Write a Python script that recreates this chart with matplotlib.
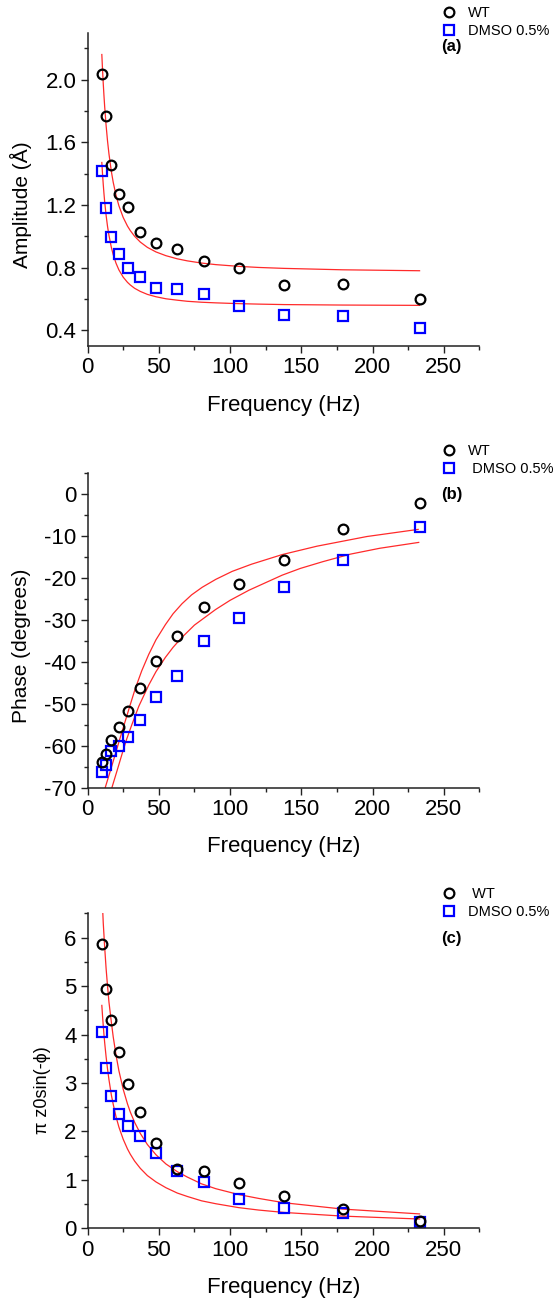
import matplotlib
matplotlib.use('Agg')
import matplotlib.pyplot as plt
from matplotlib.ticker import MultipleLocator

plt.rcParams['font.family'] = ['Liberation Sans', 'DejaVu Sans']

# frequencies of the measured points (Hz)
freq = [10, 12.7, 16.7, 22.2, 28.7, 37.1, 48.1, 62.8, 81.5, 106, 138, 179, 233]

# (a) amplitude
amp_wt = [2.036, 1.767, 1.452, 1.270, 1.188, 1.026, 0.960, 0.920, 0.845, 0.797, 0.690, 0.698, 0.601]
amp_dmso = [1.414, 1.181, 0.997, 0.889, 0.796, 0.739, 0.667, 0.665, 0.633, 0.557, 0.499, 0.489, 0.417]

# (b) phase
phase_wt = [-64.0, -62.0, -58.6, -55.5, -51.8, -46.3, -39.9, -33.9, -26.9, -21.4, -15.7, -8.5, -2.2]
phase_dmso = [-66.3, -64.6, -61.4, -60.0, -57.9, -53.9, -48.4, -43.4, -35.2, -29.7, -22.2, -15.9, -7.9]

# (c) pi z0 sin(-phi)
psin_wt = [5.87, 4.93, 4.29, 3.64, 2.97, 2.40, 1.76, 1.23, 1.19, 0.936, 0.674, 0.406, 0.151]
psin_dmso = [4.06, 3.31, 2.73, 2.37, 2.11, 1.90, 1.55, 1.18, 0.956, 0.612, 0.427, 0.310, 0.131]

# fitted curves
fit_x = [10, 10.5, 11, 11.5, 12, 13, 14, 15, 16.7, 18, 20, 22, 25, 28, 30, 33, 37, 42, 48, 55,
         63, 70, 80, 90, 106, 120, 138, 179, 233]
fit_amp_wt = [2.160, 2.062, 1.975, 1.897, 1.827, 1.707, 1.608, 1.526, 1.413, 1.344, 1.260, 1.194,
              1.120, 1.065, 1.036, 1.000, 0.963, 0.929, 0.900, 0.876, 0.856, 0.843, 0.829, 0.819,
              0.808, 0.801, 0.795, 0.786, 0.780]
fit_amp_dmso = [1.471, 1.396, 1.331, 1.272, 1.220, 1.134, 1.063, 1.006, 0.928, 0.882, 0.827, 0.785,
                0.739, 0.706, 0.689, 0.668, 0.648, 0.629, 0.614, 0.601, 0.592, 0.585, 0.579, 0.575,
                0.570, 0.567, 0.564, 0.561, 0.559]
fit_psin_wt = [6.95, 6.63, 6.30, 6.05, 5.80, 5.36, 5.00, 4.67, 4.25, 3.95, 3.57, 3.25, 2.87, 2.57,
               2.40, 2.19, 1.96, 1.73, 1.52, 1.33, 1.17, 1.06, 0.92, 0.82, 0.70, 0.62, 0.53,
               0.40, 0.30]
fit_psin_dmso = [4.60, 4.38, 4.18, 4.00, 3.83, 3.54, 3.29, 3.07, 2.75, 2.56, 2.30, 2.09, 1.84, 1.64,
                 1.53, 1.39, 1.24, 1.09, 0.96, 0.84, 0.73, 0.66, 0.57, 0.51, 0.43, 0.38, 0.33,
                 0.255, 0.195]

fit_ph_wt_x = [12.4, 16, 19.5, 23, 26.5, 30, 33.5, 38, 42.9, 48, 54.6, 60, 66.3, 73, 80.4, 90,
               101.5, 115, 136.6, 161, 196, 232]
fit_ph_wt = [-70, -66.0, -62.0, -58.0, -54.1, -50.2, -46.4, -42.2, -38.3, -34.8, -31.2, -28.6,
             -26.2, -24.1, -22.3, -20.4, -18.5, -16.8, -14.5, -12.5, -10.2, -8.5]
fit_ph_dmso_x = [17.1, 20.5, 24.2, 27.5, 31.2, 36, 42.9, 48, 54.6, 60, 66.3, 75, 89.8, 100, 113.2,
                 136.6, 149.3, 165, 184.4, 205, 232.4]
fit_ph_dmso = [-70, -66.2, -62.0, -58.4, -54.9, -50.6, -45.6, -42.4, -39.0, -36.6, -34.2, -31.3,
               -27.6, -25.4, -23.0, -19.4, -17.8, -16.2, -14.4, -13.0, -11.6]

panels = [
    dict(wt=amp_wt, dmso=amp_dmso, fx1=fit_x, f1=fit_amp_wt, fx2=fit_x, f2=fit_amp_dmso,
         ylim=(0.3, 2.3), major=0.4, minor=0.2, fmt='%.1f', ylabel='Amplitude (Å)', ysize=15,
         tag='(a)', labels=['WT', 'DMSO 0.5%'], rect=[0.1578, 0.7345, 0.706, 0.2405],
         leg_y=6, tag_y=47, ylx=-0.143, yly=0.45),
    dict(wt=phase_wt, dmso=phase_dmso, fx1=fit_ph_wt_x, f1=fit_ph_wt, fx2=fit_ph_dmso_x, f2=fit_ph_dmso,
         ylim=(-70, 5), major=10, minor=5, fmt='%d', ylabel='Phase (degrees)', ysize=15,
         tag='(b)', labels=['WT', ' DMSO 0.5%'], rect=[0.1578, 0.3956, 0.706, 0.2416],
         leg_y=444, tag_y=495, ylx=-0.145, yly=0.45),
    dict(wt=psin_wt, dmso=psin_dmso, fx1=fit_x, f1=fit_psin_wt, fx2=fit_x, f2=fit_psin_dmso,
         ylim=(0, 6.5), major=1, minor=0.5, fmt='%d', ylabel='π z0sin(-ϕ)', ysize=13,
         tag='(c)', labels=[' WT', 'DMSO 0.5%'], rect=[0.1578, 0.0572, 0.706, 0.2419],
         leg_y=887, tag_y=938, ylx=-0.093, yly=0.44),
]

fig = plt.figure(figsize=(5.55, 13.03), dpi=100)
H = 1303.0

for p in panels:
    ax = fig.add_axes(p['rect'])
    ax.plot(p['fx1'], p['f1'], color='#ff2a2a', lw=0.9, zorder=1)
    ax.plot(p['fx2'], p['f2'], color='#ff2a2a', lw=0.9, zorder=1)
    h1, = ax.plot(freq, p['wt'], 'o', ms=7, mfc='none', mec='black', mew=1.6, zorder=3)
    h2, = ax.plot(freq, p['dmso'], 's', ms=6.5, mfc='none', mec='#0000ff', mew=1.6, zorder=2)

    ax.set_xlim(0, 275)
    ax.set_ylim(*p['ylim'])
    ax.xaxis.set_major_locator(MultipleLocator(50))
    ax.xaxis.set_minor_locator(MultipleLocator(25))
    ax.yaxis.set_major_locator(MultipleLocator(p['major']))
    ax.yaxis.set_minor_locator(MultipleLocator(p['minor']))
    ax.yaxis.set_major_formatter(plt.FormatStrFormatter(p['fmt']))
    ax.tick_params(which='major', direction='out', length=5, width=1, labelsize=16, colors='#222222',
                   labelcolor='black', pad=3)
    ax.tick_params(which='minor', direction='out', length=3, width=1, colors='#222222')
    for s in ['top', 'right']:
        ax.spines[s].set_visible(False)
    for s in ['left', 'bottom']:
        ax.spines[s].set_linewidth(1.1)
        ax.spines[s].set_color('#222222')
    ax.set_xlabel('Frequency (Hz)', fontsize=16, labelpad=12)
    ax.set_ylabel(p['ylabel'], fontsize=p['ysize'])
    ax.yaxis.set_label_coords(p['ylx'], p['yly'])

    ax.legend([h1, h2], p['labels'], loc='upper left',
              bbox_to_anchor=(442 / 555, 1 - p['leg_y'] / H), bbox_transform=fig.transFigure,
              frameon=False, fontsize=10.5, handlelength=1.0, handletextpad=0.8,
              labelspacing=0.3, borderpad=0, borderaxespad=0)
    fig.text(441 / 555, 1 - p['tag_y'] / H, p['tag'], fontsize=12, fontweight='bold',
             ha='left', va='center')

fig.savefig('out.png', dpi=100)
